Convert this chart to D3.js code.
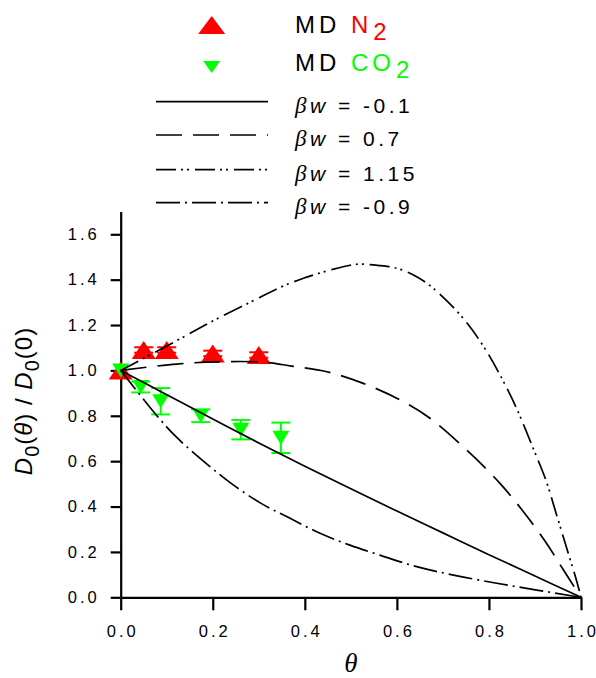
<!DOCTYPE html>
<html>
<head>
<meta charset="utf-8">
<script src="https://cdn.jsdelivr.net/npm/d3@7"></script>
<style>
  html, body { margin: 0; padding: 0; background: #fff; }
  svg { display: block; font-family: Arial, "Liberation Sans", sans-serif; }
</style>
</head>
<body>
<svg id="chart" width="596" height="678"></svg>
<script>
// ---------- data ----------
const xTicks = [0.0, 0.2, 0.4, 0.6, 0.8, 1.0];
const yTicks = [0.0, 0.2, 0.4, 0.6, 0.8, 1.0, 1.2, 1.4, 1.6];

// MD N2 (red up-triangles)
const n2Theta = [0.0, 0.05, 0.1, 0.2, 0.3];
const n2Value = [1.0, 1.09, 1.09, 1.075, 1.068];
const n2Err   = [0.0, 0.012, 0.012, 0.012, 0.012];

// MD CO2 (green down-triangles)
const co2Theta = [0.0, 0.0435, 0.087, 0.174, 0.261, 0.348];
const co2Value = [1.0, 0.927, 0.864, 0.80, 0.739, 0.703];
const co2Err   = [0.0, 0.024, 0.058, 0.028, 0.043, 0.067];

// model curves
const bwNeg01Theta = [0, 0.1, 0.2, 0.3, 0.4, 0.5, 0.6, 0.7, 0.8, 0.9, 1.0];
const bwNeg01Value = [1.0, 0.893, 0.786, 0.68, 0.578, 0.478, 0.38, 0.284, 0.188, 0.094, 0.0];

const bw07Theta = [0, 0.121, 0.211, 0.313, 0.371, 0.448, 0.527, 0.607, 0.672, 0.759, 0.824, 0.875, 0.925, 0.962, 1.0];
const bw07Value = [1.0, 1.028, 1.038, 1.036, 1.019, 0.994, 0.943, 0.870, 0.789, 0.635, 0.502, 0.377, 0.238, 0.120, 0.0];

const bw115Theta = [0, 0.117, 0.204, 0.284, 0.342, 0.397, 0.455, 0.513, 0.549, 0.6, 0.643, 0.679, 0.744, 0.791, 0.828, 0.86, 0.896, 0.925, 0.947, 0.969, 0.991, 1.0];
const bw115Value = [1.0, 1.126, 1.222, 1.303, 1.362, 1.406, 1.442, 1.468, 1.465, 1.45, 1.413, 1.362, 1.23, 1.097, 0.965, 0.833, 0.657, 0.509, 0.363, 0.216, 0.069, 0.0];

const bwNeg09Theta = [0, 0.085, 0.124, 0.19, 0.24, 0.305, 0.368, 0.433, 0.498, 0.563, 0.643, 0.723, 0.817, 0.904, 1.0];
const bwNeg09Value = [1.0, 0.785, 0.70, 0.583, 0.502, 0.414, 0.348, 0.282, 0.230, 0.186, 0.135, 0.098, 0.062, 0.032, 0.0];

const curveLabels = ["-0.1", "0.7", "1.15", "-0.9"];
const curveDash = [null, "26,11", "20,5,2,4,2,6", "24,5,2,5"];

// ---------- layout ----------
const svg = d3.select("#chart");
const x = d3.scaleLinear().domain([0, 1]).range([120.7, 581]);
const y = d3.scaleLinear().domain([0, 1.7]).range([597.3, 211.6]);

// axes
const xAxis = d3.axisBottom(x).tickValues(xTicks).tickFormat(d3.format(".1f"))
  .tickSize(13).tickSizeOuter(0).tickPadding(15);
const yAxis = d3.axisLeft(y).tickValues(yTicks).tickFormat(d3.format(".1f"))
  .tickSize(10).tickSizeOuter(0).tickPadding(14);

const gx = svg.append("g").attr("transform", `translate(0,${y(0)})`).call(xAxis);
const gy = svg.append("g").attr("transform", `translate(${x(0)},0)`).call(yAxis);
[gx, gy].forEach(g => {
  g.select(".domain").attr("stroke", "#000").attr("stroke-width", 2.2);
  g.selectAll(".tick line").attr("stroke", "#000").attr("stroke-width", 2.2);
  g.selectAll(".tick text").attr("fill", "#000")
    .style("font-size", "16.5px")
    .style("font-family", "Arial, 'Liberation Sans', sans-serif")
    .each(function() {
      const s = d3.select(this).text();
      const t = d3.select(this).text(null);
      t.append("tspan").style("letter-spacing", "3px").text(s.slice(0, -1));
      t.append("tspan").text(s.slice(-1));
    });
});

// axis titles
svg.append("text")
  .attr("x", x(0.5)).attr("y", 672)
  .attr("text-anchor", "middle")
  .style("font-family", "'Liberation Serif', 'Times New Roman', serif")
  .style("font-style", "italic").style("font-size", "27px")
  .text("θ");

const yl = svg.append("text")
  .attr("transform", "translate(32,401) rotate(-90)")
  .attr("text-anchor", "middle")
  .style("font-size", "24px").style("letter-spacing", "1px");
yl.append("tspan").style("font-style", "italic").text("D");
yl.append("tspan").attr("dy", 7).style("font-size", "20px").text("0");
yl.append("tspan").attr("dy", -7).text("(");
yl.append("tspan").style("font-style", "italic").text("θ");
yl.append("tspan").text(") / ");
yl.append("tspan").style("font-style", "italic").text("D");
yl.append("tspan").attr("dy", 7).style("font-size", "20px").text("0");
yl.append("tspan").attr("dy", -7).text("(0)");

// triangle path helpers (bbox-centred)
const triUp = (w, h) => `M0,${-h/2}L${w/2},${h/2}L${-w/2},${h/2}Z`;
const triDown = (w, h) => `M0,${h/2}L${w/2},${-h/2}L${-w/2},${-h/2}Z`;

// ---------- data markers ----------
const red = "#ff0000", green = "#00ff00";

const n2 = n2Theta.map((t, i) => ({t, v: n2Value[i], e: n2Err[i]}));
const co2 = co2Theta.map((t, i) => ({t, v: co2Value[i], e: co2Err[i]}));

function errorBars(data, color) {
  const g = svg.append("g").attr("stroke", color).attr("stroke-width", 2);
  data.filter(d => d.e > 0).forEach(d => {
    const cx = x(d.t), y1 = y(d.v - d.e), y2 = y(d.v + d.e);
    g.append("line").attr("x1", cx).attr("x2", cx).attr("y1", y1).attr("y2", y2);
    g.append("line").attr("x1", cx - 9.5).attr("x2", cx + 9.5).attr("y1", y1).attr("y2", y1);
    g.append("line").attr("x1", cx - 9.5).attr("x2", cx + 9.5).attr("y1", y2).attr("y2", y2);
  });
}

errorBars(n2, red);
svg.append("g").selectAll("path").data(n2).join("path")
  .attr("d", triUp(24, 18))
  .attr("transform", d => `translate(${x(d.t)},${y(d.v)})`)
  .attr("fill", red);

errorBars(co2, green);
svg.append("g").selectAll("path").data(co2).join("path")
  .attr("d", triDown(17, 14))
  .attr("transform", d => `translate(${x(d.t)},${y(d.v)})`)
  .attr("fill", green);

// ---------- model curves ----------
const curves = [
  bwNeg01Theta.map((t, i) => [t, bwNeg01Value[i]]),
  bw07Theta.map((t, i) => [t, bw07Value[i]]),
  bw115Theta.map((t, i) => [t, bw115Value[i]]),
  bwNeg09Theta.map((t, i) => [t, bwNeg09Value[i]])
];
const line = d3.line().x(d => x(d[0])).y(d => y(d[1])).curve(d3.curveCatmullRom.alpha(0.5));
curves.forEach((c, i) => {
  svg.append("path").attr("d", line(c))
    .attr("fill", "none").attr("stroke", "#000").attr("stroke-width", 1.7)
    .attr("stroke-dasharray", curveDash[i]);
});

// ---------- legend ----------
const leg = svg.append("g").style("font-size", "24px").style("letter-spacing", "4px");
leg.append("path").attr("d", triUp(27, 18)).attr("transform", "translate(211.7,25)").attr("fill", red);
const t1 = leg.append("text").attr("x", 295).attr("y", 33);
t1.append("tspan").text("MD ");
t1.append("tspan").attr("fill", red).text("N");
t1.append("tspan").attr("fill", red).attr("dy", 7).attr("dx", 1).text("2");

leg.append("path").attr("d", triDown(17, 12)).attr("transform", "translate(211.7,67)").attr("fill", green);
const t2 = leg.append("text").attr("x", 295).attr("y", 71);
t2.append("tspan").text("MD ");
t2.append("tspan").attr("fill", green).text("CO");
t2.append("tspan").attr("fill", green).attr("dy", 7).attr("dx", 1).text("2");

const rowY = [101.7, 135, 169.7, 202.7];
curveLabels.forEach((lab, i) => {
  leg.append("line").attr("x1", 156).attr("x2", 268).attr("y1", rowY[i]).attr("y2", rowY[i])
    .attr("stroke", "#000").attr("stroke-width", 1.7).attr("stroke-dasharray", curveDash[i]);
  const t = leg.append("text").attr("x", 295).attr("y", rowY[i] + 11)
    .style("font-size", "21px").style("letter-spacing", "3.5px");
  t.append("tspan").style("font-family", "'Liberation Serif', 'Times New Roman', serif")
    .style("font-style", "italic").style("font-size", "23px").text("β");
  t.append("tspan").style("font-style", "italic").text("w");
  t.append("tspan").text(" = " + lab);
});
</script>
</body>
</html>
